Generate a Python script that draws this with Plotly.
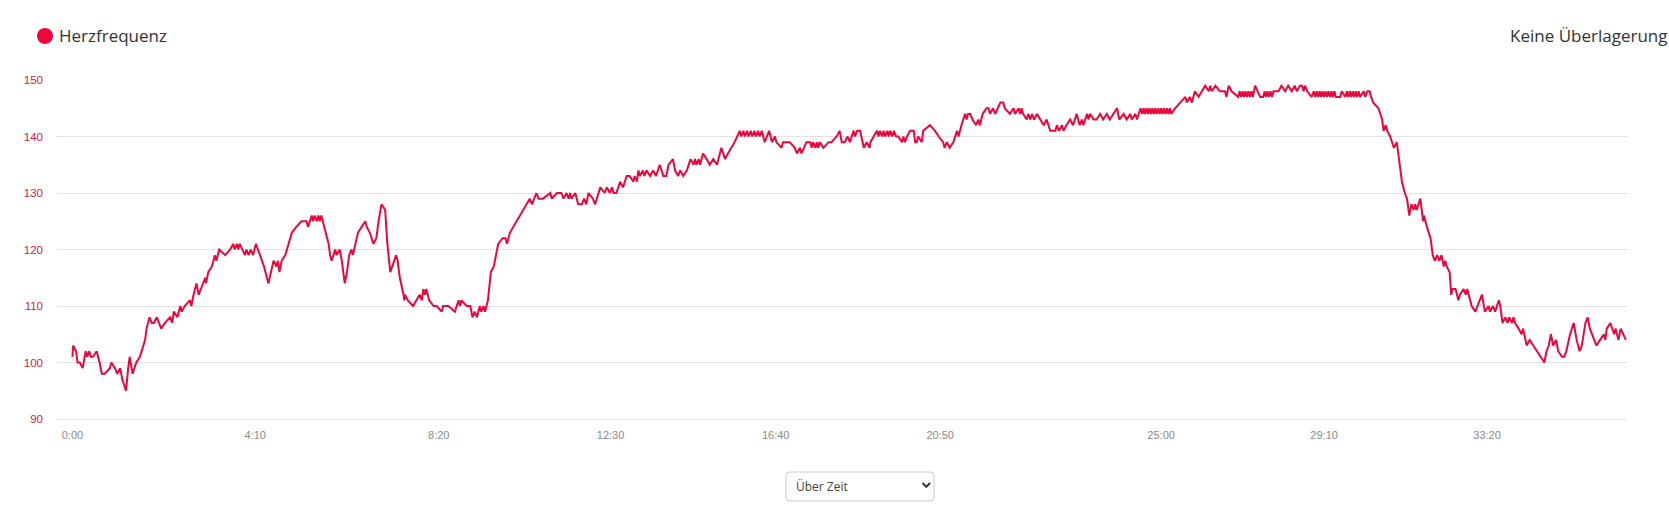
import plotly.graph_objects as go

# x positions along the recording (the axis is sample-based, so the time labels are not evenly spaced)
seg1_pos = [0,1,5,7,10,14,18,20,23,25,28,33,37,40,44,51,53,58,61,65,68,73,76,78,82,87,92,96,99,101,
            105,108,111,115,118,121,126,133,136,138,143,147,149,153,160,162,165,169,172,175,
            181,182,185,190,194,196,200,208,215,219,221,224,226,228,232,235,237,240,243,246,
            250,256,261,267,271,274,278,280,282,285,290,294,299,305,312,319,321,326,328,330,
            333,335,337,339,343,345,349,351,353,358,360,364,367,371,374,377,380,382,385,389,
            394,399,401,405,410,414,417,421,426,429,433,436,438,441,443,446,451,452,453,457,
            464,469,473,476,478,480,482,486,492,496,503,505,512]
seg1_hr = [101,103,102,100,100,99,102,101,102,101,101,102,100,98,98,99,100,99,98,99,97,95,99,101,98,100,101,103,104,106,
           108,107,107,108,107,106,107,108,107,109,108,110,109,110,111,110,112,114,112,113,
           115,114,116,117,119,118,120,119,120,121,120,121,120,121,120,119,120,119,120,119,
           121,119,117,114,116,118,117,118,116,118,119,121,123,124,125,125,124,126,125,126,
           125,126,125,126,124,123,121,119,118,120,119,120,118,114,116,119,120,119,121,123,
           124,125,124,123,121,122,125,128,127,121,116,117,118,119,118,115,112,111,112,111,
           110,111,112,111,113,112,113,111,110,110,109,110,110]

seg2_pos = [521,526,528,530,537,542,545,548,551,555,557,560,562,566,570,574,580,586,590,592,
            596,605,614,623,626,632,635,641,651,653,660,666,669,673,676,678,680,685,689,694,
            697,700,703,709,712,719,725,728,732,735,737,741,746,750,755,759,764,766,769,771,
            773,777,779,782,787,791,795,797,800,805,809,812,818,821,825,828,832,837,842,846,
            848,850,853,855,859,864,868,873,878,884,889,893,898,902,909,911,914,916,919,921,
            924,926,929,931,934,936,939,943,949,953,957,959,966,968,977,984,987,991,993,1000,
            1005,1007,1009,1012,1014,1016,1018,1023,1030,1034,1041,1045,1048,1052,1056,1059,1064,1066,1069,1073,
            1078,1082,1086]
seg2_hr = [109,111,110,111,110,110,108,109,108,110,109,110,109,111,116,117,121,122,122,121,
           123,125,127,129,128,130,129,129,130,129,130,130,129,130,129,130,129,130,128,128,
           129,128,130,129,128,131,130,131,130,131,130,130,132,131,133,133,132,133,132,134,
           133,134,133,134,133,134,133,134,135,133,133,135,136,134,133,134,133,134,136,135,
           136,135,136,135,137,136,135,136,135,138,136,137,138,139,141,140,141,140,141,140,
           141,140,141,140,141,140,141,139,141,139,140,139,138,139,139,138,137,138,137,139,
           139,138,139,138,139,138,139,138,139,139,140,141,139,139,140,139,141,140,141,141,
           138,139,138]

seg3_pos = [1087,1096,1098,1100,1103,1105,1107,1110,1112,1114,1117,1119,1122,1125,1130,1132,1134,1137,1141,1146,
            1148,1150,1152,1157,1159,1168,1175,1180,1186,1188,1191,1195,1200,1205,1207,1211,1216,1218,1220,1223,
            1226,1231,1234,1236,1240,1245,1248,1250,1254,1257,1264,1268,1270,1277,1282,1284,1289,1291,1293,1295,
            1300,1302,1305,1307,1310,1314,1318,1323,1327,1332,1336,1339,1341,1344,1348,1350,1354,1359,1363,1368,
            1372,1375,1377,1382,1384,1386,1391,1395,1400,1404,1409,1413,1418,1423,1426,1432,1436,1441,1443,1448,
            1450,1455,1457,1459,1461,1463,1465,1467,1469,1471,1473,1475,1477,1479,1481,1483,1485,1487,1489,1491,
            1493,1495,1497,1502,1509,1516,1518,1522,1525,1529,1534,1538,1543,1548,1550,1552,1557,1563,1570,1572,
            1575,1579,1588,1590,1592,1594,1596,1598,1600,1602,1604,1606,1608,1611,1615,1618,1622,1624,1626,1628,
            1630,1632,1634,1636,1643,1647,1652,1656,1661,1665,1668,1672]
seg3_hr = [139,141,140,141,140,141,140,141,140,141,140,141,140,140,139,140,139,140,141,141,
           139,139,140,139,141,142,141,140,139,138,139,138,139,141,140,142,144,143,144,144,
           143,142,143,142,144,145,145,144,145,144,146,146,145,144,145,144,145,144,145,144,
           143,144,143,144,143,144,143,142,143,141,141,141,142,141,142,141,142,143,142,144,
           142,143,142,144,143,144,143,143,144,143,144,143,144,145,143,144,143,144,143,144,
           143,145,144,145,144,145,144,145,144,145,144,145,144,145,144,145,144,145,144,145,
           144,145,144,145,146,147,146,147,146,148,147,148,149,148,149,148,149,148,148,147,
           149,148,147,148,147,148,147,148,147,148,147,148,147,149,148,147,147,148,147,148,
           147,148,147,148,148,149,148,149,148,149,148,149]

seg4_pos = [1675,1677,1679,1682,1688,1691,1693,1695,1697,1699,1701,1703,1705,1707,1709,1711,1713,1715,1717,1719,
            1721,1727,1729,1734,1736,1738,1740,1742,1744,1746,1748,1750,1752,1754,1759,1761,1764,1767,1769,1772,
            1779,1784,1786,1789,1791,1795,1800,1804,1806,1811,1815,1818,1821,1824,1827,1829,1831,1834,1836,1840,
            1841,1845,1850,1853,1856,1859,1862,1865,1868,1870,1872,1876,1878,1880,1884,1888,1890,1895,1898,1900,
            1902,1906,1911,1914,1920,1924,1929,1931,1935,1938,1940,1943,1945,1948,1952,1955,1957,1961,1963,1965,
            1970,1974,1976,1981,1985,1990,1995,1999,2005,2008,2011,2014,2017,2021,2024,2029,2032,2035,2040,2045,
            2049,2053,2056,2061,2064,2067,2070,2076,2081,2086,2088,2090,2095,2097,2100,2102,2106,2109,2113,2116]
seg4_hr = [149,148,149,148,147,148,147,148,147,148,147,148,147,148,147,148,147,148,147,148,
           147,147,148,147,148,147,148,147,148,147,148,147,148,147,148,147,148,148,147,146,
           145,143,141,142,141,140,138,139,137,132,130,129,126,128,127,128,127,128,129,125,
           126,124,122,119,118,119,118,119,117,118,117,116,112,113,113,111,112,113,112,113,
           112,110,109,110,112,109,110,109,110,109,110,111,110,107,108,107,108,107,108,107,
           106,105,106,103,104,103,102,101,100,102,103,105,103,104,102,101,101,102,105,107,
           104,102,103,107,108,106,105,103,104,105,104,106,107,106,105,106,104,106,105,104]

tick_pos = [0, 249, 499, 733, 958, 1182, 1483, 1705, 1927]
tick_labels = ["0:00", "4:10", "8:20", "12:30", "16:40", "20:50", "25:00", "29:10", "33:20"]
y_ticks = [90, 100, 110, 120, 130, 140, 150]

for p, h in [(seg1_pos, seg1_hr), (seg2_pos, seg2_hr), (seg3_pos, seg3_hr), (seg4_pos, seg4_hr)]:
    assert len(p) == len(h), (len(p), len(h))

position = seg1_pos + seg2_pos + seg3_pos + seg4_pos
heart_rate = seg1_hr + seg2_hr + seg3_hr + seg4_hr

RED = "#e8083e"
W, H = 1669, 512
L, R, T, B = 57, 42, 80, 93
PW, PH = W - L - R, H - T - B


def px(xp):
    return (xp - L) / PW


def py(yp):
    return (H - B - yp) / PH


fig = go.Figure()
fig.add_trace(go.Scatter(
    x=position, y=heart_rate, mode="lines", name="Herzfrequenz",
    line=dict(color=RED, width=2), showlegend=False,
))

fig.update_layout(
    width=W, height=H, autosize=False,
    margin=dict(l=L, r=R, t=T, b=B, pad=0),
    paper_bgcolor="white", plot_bgcolor="white",
    font=dict(family="Open Sans, Liberation Sans, sans-serif"),
    xaxis=dict(
        range=[-21, 2117.6], tickmode="array", tickvals=tick_pos, ticktext=tick_labels,
        showgrid=False, zeroline=False, showline=True, linecolor="#e3e3e3", linewidth=1,
        ticks="", tickfont=dict(family="Liberation Sans, Arial, sans-serif", size=11, color="#8a8a8a"),
        ticklabelstandoff=6,
    ),
    yaxis=dict(
        range=[90, 150], tickmode="array", tickvals=y_ticks,
        showgrid=True, gridcolor="#e3e3e3", gridwidth=1, zeroline=False, showline=False,
        ticks="", tickfont=dict(family="Liberation Sans, Arial, sans-serif", size=11.5, color="#c8234f"),
        ticklabelstandoff=13,
    ),
    shapes=[
        dict(type="circle", xref="paper", yref="paper", xsizemode="pixel", ysizemode="pixel",
             xanchor=px(45), yanchor=py(36), x0=-8, x1=8, y0=-8, y1=8,
             fillcolor="#f0063c", line=dict(width=0)),
        dict(type="path", xref="paper", yref="paper",
             path=(f"M {px(790)} {py(472)} L {px(930)} {py(472)} Q {px(934)} {py(472)} {px(934)} {py(476)} "
                   f"L {px(934)} {py(497)} Q {px(934)} {py(501)} {px(930)} {py(501)} "
                   f"L {px(790)} {py(501)} Q {px(786)} {py(501)} {px(786)} {py(497)} "
                   f"L {px(786)} {py(476)} Q {px(786)} {py(472)} {px(790)} {py(472)} Z"),
             fillcolor="white", line=dict(color="#c9c9c9", width=1)),
        dict(type="path", xref="paper", yref="paper",
             path=f"M {px(922.5)} {py(483)} L {px(926.3)} {py(486.8)} L {px(930.1)} {py(483)}",
             line=dict(color="#333333", width=2)),
    ],
    annotations=[
        dict(text="Herzfrequenz", xref="paper", yref="paper", x=px(57), y=py(35),
             xanchor="left", yanchor="middle", showarrow=False,
             font=dict(family="Open Sans", size=17, color="#333333")),
        dict(text="Keine Überlagerung", xref="paper", yref="paper", x=px(1669), y=py(35),
             xanchor="right", yanchor="middle", showarrow=False,
             font=dict(family="Open Sans", size=17, color="#333333")),
        dict(text="Über Zeit", xref="paper", yref="paper", x=px(794), y=py(486.5),
             xanchor="left", yanchor="middle", showarrow=False,
             font=dict(family="Open Sans", size=12, color="#444444")),
    ],
)

fig.write_html("out.html", include_plotlyjs=True,
               config={"displayModeBar": False},
               post_script="document.body.style.margin='0';")
